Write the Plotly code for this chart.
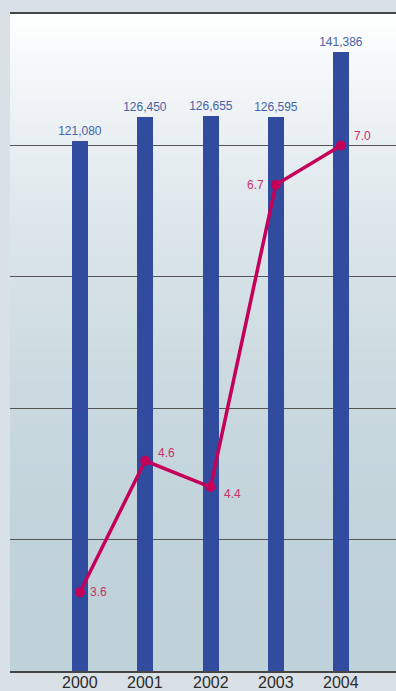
import plotly.graph_objects as go

# Annual figures
years = ["2000", "2001", "2002", "2003", "2004"]
totals = [121080, 126450, 126655, 126595, 141386]
total_labels = ["121,080", "126,450", "126,655", "126,595", "141,386"]
rates = [3.6, 4.6, 4.4, 6.7, 7.0]
rate_labels = ["3.6", "4.6", "4.4", "6.7", "7.0"]

BAR_COLOR = "#314c9e"
BAR_TEXT = "#4862aa"
LINE_COLOR = "#c4005a"
LINE_TEXT = "#c8306c"
PAPER = "#dae1e6"
FONT = "Arial, Liberation Sans, sans-serif"

fig = go.Figure()

fig.add_trace(go.Bar(
    x=years, y=totals, width=0.245,
    marker=dict(color=BAR_COLOR, line=dict(width=0)),
    text=total_labels, textposition="outside", constraintext="none",
    textfont=dict(family=FONT, size=12, color=BAR_TEXT),
    cliponaxis=False, hoverinfo="skip",
))

fig.add_trace(go.Scatter(
    x=years, y=rates, yaxis="y2", mode="lines+markers",
    line=dict(color=LINE_COLOR, width=3.5),
    marker=dict(color=LINE_COLOR, size=10),
    cliponaxis=False, hoverinfo="skip",
))

# Value labels next to the rate points (x given as category index)
offsets = [
    dict(xanchor="left", xshift=8, yshift=0),
    dict(xanchor="left", xshift=11, yshift=8),
    dict(xanchor="left", xshift=11, yshift=-7),
    dict(xanchor="right", xshift=-10, yshift=0),
    dict(xanchor="left", xshift=11, yshift=9),
]
for i, (val, lab, off) in enumerate(zip(rates, rate_labels, offsets)):
    fig.add_annotation(
        x=i, y=val, xref="x", yref="y2", text=lab, showarrow=False,
        font=dict(family=FONT, size=12, color=LINE_TEXT),
        yanchor="middle", **off,
    )

# Year labels under the axis
for i, yr in enumerate(years):
    fig.add_annotation(
        x=i, y=0, xref="x", yref="paper", text=yr, showarrow=False,
        font=dict(family=FONT, size=16, color="#2a2a2a"),
        xanchor="center", yanchor="middle", yshift=-11,
    )

# Vertical gradient for the plot area
top_rgb = (255, 255, 255)
bot_rgb = (191, 209, 217)
n = 120
shapes = []
for i in range(n):
    t = (i + 0.5) / n  # 0 at top, 1 at bottom
    w = (1 - t) ** 2
    c = tuple(round(b + (tp - b) * w) for tp, b in zip(top_rgb, bot_rgb))
    y1 = 1 - i / n
    y0 = 1 - (i + 1) / n - 0.002
    shapes.append(dict(
        type="rect", xref="paper", yref="paper", x0=0, x1=1,
        y0=max(y0, 0), y1=y1, layer="below", line=dict(width=0),
        fillcolor=f"rgb({c[0]},{c[1]},{c[2]})",
    ))

fig.update_layout(
    width=396, height=691,
    margin=dict(l=10, r=0, t=14, b=20, autoexpand=False),
    paper_bgcolor=PAPER, plot_bgcolor="#ffffff",
    showlegend=False, shapes=shapes, bargap=0,
    xaxis=dict(
        type="category", range=[-1.072, 4.842],
        showgrid=False, zeroline=False,
        showline=True, linecolor="#454545", linewidth=2, mirror=True,
        ticks="", showticklabels=False,
        automargin=False, fixedrange=True,
    ),
    yaxis=dict(
        range=[0, 150000], dtick=30000, tick0=0,
        showgrid=True, gridcolor="#555555", gridwidth=1.2,
        zeroline=False, showline=False, showticklabels=False, ticks="",
        automargin=False, fixedrange=True,
    ),
    yaxis2=dict(
        range=[3, 8], overlaying="y", side="right",
        showgrid=False, zeroline=False, showline=False,
        showticklabels=False, ticks="", automargin=False, fixedrange=True,
    ),
)

fig.write_html("out.html", config={"displayModeBar": False})
